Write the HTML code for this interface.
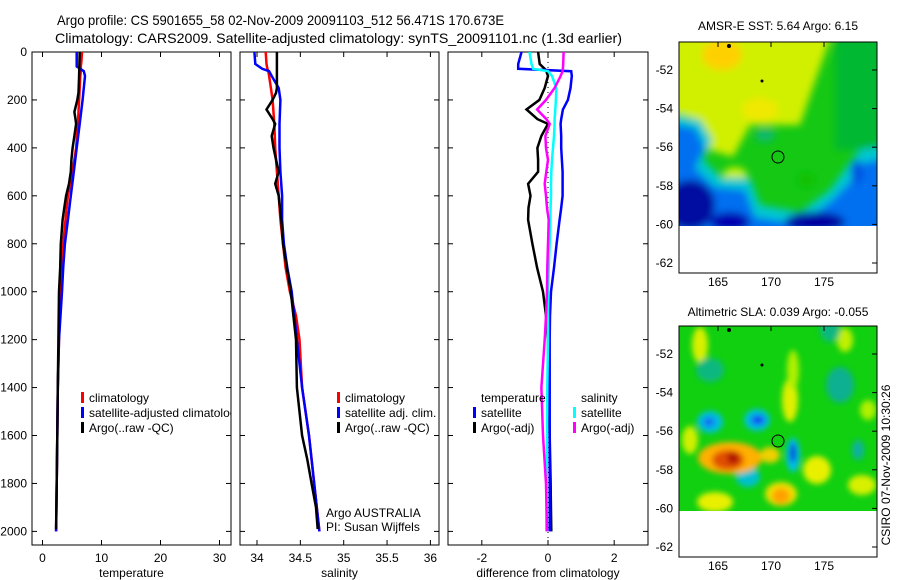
<!DOCTYPE html>
<html><head><meta charset="utf-8"><style>
html,body{margin:0;padding:0;background:#fff;}
svg{display:block;font-family:"Liberation Sans",sans-serif;}
text{font-size:12px;fill:#000;}
</style></head><body>
<svg id="fig" width="900" height="580" viewBox="0 0 900 580" xmlns="http://www.w3.org/2000/svg">
<defs>
<filter id="blur1" x="-30%" y="-30%" width="160%" height="160%"><feGaussianBlur stdDeviation="4"/></filter>
<filter id="blur2" x="-30%" y="-30%" width="160%" height="160%"><feGaussianBlur stdDeviation="3"/></filter>
<clipPath id="clipP1"><rect x="32" y="52" width="199" height="493"/></clipPath>
<clipPath id="clipP2"><rect x="240" y="52" width="199" height="493"/></clipPath>
<clipPath id="clipP3"><rect x="448" y="52" width="200" height="493"/></clipPath>
<clipPath id="clipM1"><rect x="679" y="42" width="198" height="184"/></clipPath>
<clipPath id="clipM2"><rect x="679" y="326" width="198" height="185"/></clipPath>
</defs>
<text x="57" y="25" textLength="447" lengthAdjust="spacingAndGlyphs" style="font-size:14px">Argo profile: CS 5901655_58 02-Nov-2009 20091103_512 56.471S 170.673E</text>
<text x="55" y="43" textLength="567" lengthAdjust="spacingAndGlyphs" style="font-size:14px">Climatology: CARS2009. Satellite-adjusted climatology: synTS_20091101.nc (1.3d earlier)</text>

<g id="panels"></g>

<!-- Map 1 -->
<g>
<text x="778" y="30" text-anchor="middle">AMSR-E SST: 5.64 Argo: 6.15</text>
<g clip-path="url(#clipM1)">
<rect x="679" y="42" width="198" height="184" fill="#14c814"/>
<g filter="url(#blur1)">
<rect x="835" y="30" width="60" height="120" fill="#00b830"/>
<polygon points="660,25 835,25 812,90 800,125 750,125 733,157 710,150 690,117 660,110" fill="#d0f000"/>
<ellipse cx="722" cy="55" rx="20" ry="15" fill="#ffd000"/>
<ellipse cx="760" cy="110" rx="18" ry="12" fill="#f0e800"/>
<ellipse cx="735" cy="175" rx="12" ry="8" fill="#c8f000"/>
<polygon points="660,112 700,120 712,140 703,160 722,178 750,178 760,205 800,212 830,190 848,165 860,150 895,145 895,245 660,245" fill="#00c8d0"/>
<polygon points="660,122 695,128 705,148 695,168 715,187 745,190 755,217 800,224 830,202 852,180 865,162 895,157 895,245 660,245" fill="#0070f0"/>
<ellipse cx="690" cy="205" rx="25" ry="25" fill="#0010a0"/>
<ellipse cx="730" cy="222" rx="20" ry="10" fill="#0000b0"/>
<ellipse cx="815" cy="222" rx="30" ry="10" fill="#0000a0"/>
<ellipse cx="857" cy="172" rx="6" ry="12" fill="#0050e0"/>
<ellipse cx="765" cy="135" rx="10" ry="7" fill="#10b870"/>
<ellipse cx="806" cy="180" rx="8" ry="7" fill="#10c000"/>
</g>
</g>
<rect x="679" y="42" width="198" height="231" fill="none" stroke="#000" stroke-width="1"/>
<circle cx="778" cy="157" r="6" fill="none" stroke="#000" stroke-width="1"/>
<circle cx="729" cy="46" r="2" fill="#000"/><circle cx="762" cy="81" r="1.5" fill="#000"/>
<g id="m1ticks"></g>
</g>

<!-- Map 2 -->
<g>
<text x="778" y="316" text-anchor="middle">Altimetric SLA: 0.039 Argo: -0.055</text>
<g clip-path="url(#clipM2)">
<rect x="679" y="326" width="198" height="185" fill="#10d010"/>
<g filter="url(#blur2)">
<ellipse cx="700" cy="345" rx="8" ry="18" fill="#d8f000"/>
<ellipse cx="790" cy="400" rx="8" ry="22" fill="#e0f000"/>
<ellipse cx="793" cy="370" rx="6" ry="20" fill="#b0f000"/>
<ellipse cx="845" cy="340" rx="8" ry="12" fill="#c0f000"/>
<ellipse cx="710" cy="370" rx="14" ry="12" fill="#10b880"/>
<ellipse cx="840" cy="385" rx="14" ry="18" fill="#10b090"/>
<ellipse cx="830" cy="330" rx="10" ry="12" fill="#10b880"/>
<ellipse cx="710" cy="422" rx="13" ry="11" fill="#00c0e0"/>
<ellipse cx="709" cy="422" rx="6" ry="5" fill="#1070f0"/>
<ellipse cx="757" cy="420" rx="13" ry="11" fill="#00c0e0"/>
<ellipse cx="758" cy="420" rx="7" ry="5" fill="#1050f0"/>
<ellipse cx="793" cy="455" rx="7" ry="17" fill="#00c0f0"/>
<ellipse cx="793" cy="453" rx="3" ry="10" fill="#0030d0"/>
<ellipse cx="748" cy="477" rx="12" ry="10" fill="#00c0d0"/>
<ellipse cx="858" cy="450" rx="6" ry="10" fill="#10b0a0"/>
<ellipse cx="730" cy="458" rx="32" ry="16" fill="#ffb000"/>
<ellipse cx="728" cy="460" rx="16" ry="10" fill="#e05000"/>
<ellipse cx="733" cy="458" rx="6" ry="6" fill="#b01000"/>
<ellipse cx="770" cy="455" rx="10" ry="8" fill="#f0d000"/>
<ellipse cx="781" cy="494" rx="16" ry="12" fill="#f0e000"/>
<ellipse cx="781" cy="496" rx="9" ry="8" fill="#ffa000"/>
<ellipse cx="817" cy="470" rx="14" ry="14" fill="#e8f000"/>
<ellipse cx="862" cy="485" rx="14" ry="10" fill="#d8f000"/>
<ellipse cx="715" cy="502" rx="18" ry="10" fill="#e8f000"/>
<ellipse cx="690" cy="440" rx="8" ry="14" fill="#d0f000"/>
<ellipse cx="868" cy="410" rx="8" ry="10" fill="#b0f000"/>
</g>
</g>
<rect x="679" y="326" width="198" height="231" fill="none" stroke="#000" stroke-width="1"/>
<circle cx="778" cy="441" r="6" fill="#10d010" stroke="#000" stroke-width="1"/>
<circle cx="729" cy="330" r="2" fill="#000"/><circle cx="762" cy="365" r="1.5" fill="#000"/>
<g id="m2ticks"></g>
</g>
<text transform="translate(890,465) rotate(-90)" text-anchor="middle">CSIRO 07-Nov-2009 10:30:26</text>
</svg>
<script>
var NS="http://www.w3.org/2000/svg";
var depthTicks=[0,200,400,600,800,1000,1200,1400,1600,1800,2000];
var tempTicks=[0,10,20,30];
var salTicks=[34,34.5,35,35.5,36];
var diffTicks=[-2,0,2];
var latTicks=[-52,-54,-56,-58,-60,-62];
var lonTicks=[165,170,175];

var tDepth=[0,40,60,80,100,200,300,400,500,600,700,800,900,1000,1200,1400,1600,1800,2000];
var tClim=[6.7,6.6,6.5,6.5,6.4,6.2,6.0,5.7,5.1,4.3,3.9,3.5,3.2,3.1,2.8,2.6,2.5,2.4,2.3];
var tSat=[5.8,5.8,5.8,7.0,7.2,6.8,6.3,5.8,5.3,4.8,4.3,3.8,3.5,3.3,2.8,2.6,2.5,2.4,2.3];
var aDepth=[0,100,170,200,250,280,300,350,400,450,500,550,600,650,700,800,900,1000,1200,1400,1600,1800,1990];
var tArgo=[6.3,6.2,6.1,5.9,5.4,5.6,5.7,5.4,5.1,4.9,4.8,4.5,4.0,3.7,3.4,3.1,3.0,2.8,2.7,2.6,2.5,2.4,2.3];

var sDepth=[0,50,70,80,100,150,200,300,400,500,600,700,800,900,1000,1100,1200,1400,1600,1800,2000];
var sClim=[34.10,34.11,34.12,34.13,34.14,34.16,34.18,34.20,34.21,34.23,34.25,34.27,34.30,34.33,34.38,34.45,34.49,34.52,34.60,34.66,34.72];
var sSat=[33.97,33.98,34.06,34.14,34.17,34.25,34.27,34.26,34.26,34.27,34.29,34.29,34.31,34.35,34.40,34.43,34.46,34.52,34.60,34.66,34.72];
var sArgo=[34.23,34.23,34.23,34.22,34.18,34.11,34.18,34.21,34.17,34.19,34.22,34.25,34.21,34.25,34.28,34.30,34.39,34.45,34.46,34.49,34.52,34.58,34.63,34.68,34.70];
var sArgoDepth=[0,100,150,170,200,240,280,300,350,400,450,500,550,600,700,800,1000,1200,1400,1500,1600,1700,1800,1900,1990];

var dDepth=[0,50,70,80,100,150,200,240,280,300,350,400,450,500,550,600,650,700,800,900,1000,1100,1200,1400,1600,1800,2000];
var dTSat=[-0.8,-0.9,-0.9,0.7,0.72,0.68,0.6,0.45,0.4,0.38,0.4,0.4,0.42,0.44,0.44,0.44,0.4,0.35,0.26,0.18,0.09,0.06,0.05,0.05,0.05,0.05,0.05];
var dTArgo=[-0.3,-0.25,-0.1,-0.05,0.0,-0.1,-0.26,-0.65,-0.32,0.0,-0.2,-0.32,-0.3,-0.3,-0.6,-0.53,-0.59,-0.6,-0.47,-0.33,-0.15,-0.06,0.0,0.0,0.05,0.08,0.1];
var dSSat=[-0.56,-0.5,-0.45,0.0,0.12,0.25,0.24,0.22,0.2,0.2,0.18,0.15,0.12,0.1,0.09,0.09,0.08,0.07,0.05,0.02,0.0,0.0,0.0,-0.02,-0.03,-0.04,-0.05];
var dSArgo=[0.47,0.46,0.45,0.44,0.38,0.2,-0.06,-0.33,-0.05,0.05,-0.08,-0.06,0.0,-0.05,-0.1,-0.06,-0.03,0.02,0.0,-0.02,-0.03,-0.06,-0.1,-0.2,-0.15,-0.06,-0.03];

var TOP=52, BOT=545;
function yD(d){return TOP+d*0.2397;}
function xT(v){return 42.5+v*5.9;}
function xS(v){return 257+(v-34)*86.7;}
function xD(v){return 548+v*33.1;}
function yLat(l){return 70+(-52-l)*19.3;}
function xLon(l){return 718+(l-165)*10.6;}

var root=document.getElementById('panels');
function el(tag,attrs,parent){var e=document.createElementNS(NS,tag);for(var k in attrs)e.setAttribute(k,attrs[k]);(parent||root).appendChild(e);return e;}
function txt(x,y,s,anchor,parent){var t=el('text',{x:x,y:y,'text-anchor':anchor||'start'},parent);t.textContent=s;return t;}

function panel(id,x0,x1,xt,xf,xlabel,fmt,clip){
  var g=el('g',{});
  
  
  var r=el('rect',{x:x0,y:TOP,width:x1-x0,height:BOT-TOP,fill:'#fff',stroke:'#000','stroke-width':1},g);
  
  
  depthTicks.forEach(function(d){
    var y=yD(d);
    el('line',{x1:x0,x2:x0+5,y1:y,y2:y,stroke:'#000'},g);
    el('line',{x1:x1-5,x2:x1,y1:y,y2:y,stroke:'#000'},g);
  });
  xt.forEach(function(v){
    var x=xf(v);
    el('line',{x1:x,x2:x,y1:TOP,y2:TOP+5,stroke:'#000'},g);
    el('line',{x1:x,x2:x,y1:BOT-5,y2:BOT,stroke:'#000'},g);
    var t=txt(x,562,fmt(v),'middle',g);
    
    
  });
  var lab=txt((x0+x1)/2,577,xlabel,'middle',g);
  
  
  var cg=el('g',{'clip-path':'url(#'+clip+')'},g);
  return cg;
}
function line(parent,xs,ds,xf,color,name,w){
  var pts=xs.map(function(v,i){return xf(v).toFixed(1)+','+yD(ds[i]).toFixed(1);}).join(' ');
  var p=el('polyline',{points:pts,fill:'none',stroke:color,'stroke-width':w||2.5,'stroke-linejoin':'miter'},parent);
  
  
}
function legend(parent,x,y,color,label,name){
  el('rect',{x:x,y:y-10,width:3,height:11,fill:color},parent);
  var t=txt(x+8,y,label,'start',parent);
  
  
}

depthTicks.forEach(function(d){
  var t=txt(27,yD(d)+4,String(d),'end');
  
  
});

var p1=panel('temperature-panel',32,231,tempTicks,xT,'temperature',function(v){return String(v);},'clipP1');
line(p1,tClim,tDepth,xT,'#ff0000','temp-climatology-line');
line(p1,tSat,tDepth,xT,'#0000ff','temp-satellite-line');
line(p1,tArgo,aDepth,xT,'#000000','temp-argo-line');
legend(p1,81,402,'#ff0000','climatology','legend-climatology');
legend(p1,81,417,'#0000ff','satellite-adjusted climatology','legend-satellite-adjusted');
legend(p1,81,432,'#000000','Argo(..raw -QC)','legend-argo-raw');

var p2=panel('salinity-panel',240,439,salTicks,xS,'salinity',function(v){return String(v);},'clipP2');
line(p2,sClim,sDepth,xS,'#ff0000','sal-climatology-line');
line(p2,sSat,sDepth,xS,'#0000ff','sal-satellite-line');
line(p2,sArgo,sArgoDepth,xS,'#000000','sal-argo-line');
legend(p2,337,402,'#ff0000','climatology','legend-sal-climatology');
legend(p2,337,417,'#0000ff','satellite adj. clim.','legend-sal-satellite');
legend(p2,337,432,'#000000','Argo(..raw -QC)','legend-sal-argo');
var a1=txt(326,517,'Argo AUSTRALIA','start',p2.parentNode);


var a2=txt(326,531,'PI: Susan Wijffels','start',p2.parentNode);



var p3=panel('difference-panel',448,648,diffTicks,xD,'difference from climatology',function(v){return String(v);},'clipP3');
var z=el('line',{x1:xD(0),x2:xD(0),y1:TOP,y2:BOT,stroke:'#000','stroke-dasharray':'1,4'},p3);


line(p3,dTArgo,dDepth,xD,'#000000','diff-temp-argo-line');
line(p3,dTSat,dDepth,xD,'#0000ff','diff-temp-satellite-line');
line(p3,dSSat,dDepth,xD,'#00ffff','diff-sal-satellite-line');
line(p3,dSArgo,dDepth,xD,'#ff00ff','diff-sal-argo-line');
var lt=txt(481,402,'temperature','start',p3);


var ls=txt(581,402,'salinity','start',p3);


legend(p3,473,417,'#0000ff','satellite','legend-diff-temp-satellite');
legend(p3,473,432,'#000000','Argo(-adj)','legend-diff-temp-argo');
legend(p3,573,417,'#00ffff','satellite','legend-diff-sal-satellite');
legend(p3,573,432,'#ff00ff','Argo(-adj)','legend-diff-sal-argo');

function mapTicks(gid,top,bottom){
  var g=document.getElementById(gid);
  latTicks.forEach(function(l){
    var y=top+(yLat(l)-42);
    el('line',{x1:872,x2:877,y1:y,y2:y,stroke:'#000'},g);
    var t=txt(673,y+4,String(l),'end',g);
    
    
  });
  lonTicks.forEach(function(l){
    var x=xLon(l);
    el('line',{x1:x,x2:x,y1:top,y2:top+5,stroke:'#000'},g);
    var t=txt(x,bottom+13,String(l),'middle',g);
    
    
  });
}
mapTicks('m1ticks',42,273);
mapTicks('m2ticks',326,557);
</script>
</body></html>
